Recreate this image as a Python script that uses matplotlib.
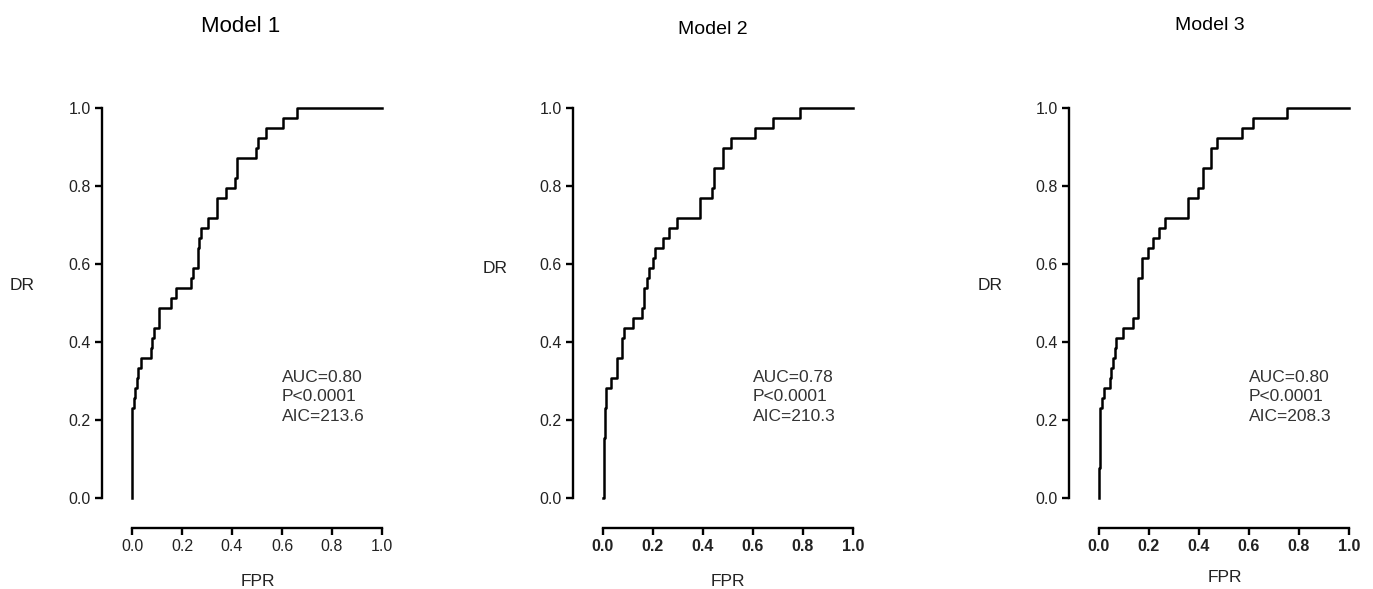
import matplotlib
matplotlib.use('Agg')
import matplotlib.pyplot as plt

plt.rcParams['font.family'] = ['Liberation Sans', 'DejaVu Sans']

model1_fpr = [0.0, 0.0, 0.008, 0.012, 0.019, 0.025, 0.035, 0.075, 0.081, 0.089, 0.109, 0.156,
              0.176, 0.236, 0.243, 0.263, 0.269, 0.276, 0.305, 0.341, 0.376, 0.412, 0.419,
              0.496, 0.503, 0.535, 0.605, 0.659, 1.0]
model1_dr = [0, 9, 10, 11, 12, 13, 14, 15, 16, 17, 19, 20, 21, 22, 23, 25, 26, 27, 28, 30, 31,
             32, 34, 35, 36, 37, 38, 39, 39]

model2_fpr = [0.0, 0.002, 0.004, 0.008, 0.010, 0.012, 0.032, 0.055, 0.075, 0.077, 0.085, 0.121,
              0.157, 0.164, 0.177, 0.184, 0.201, 0.208, 0.239, 0.264, 0.295, 0.388, 0.435,
              0.444, 0.481, 0.511, 0.608, 0.679, 0.788, 1.0]
model2_dr = [0, 3, 6, 9, 10, 11, 12, 14, 15, 16, 17, 18, 19, 21, 22, 23, 24, 25, 26, 27, 28, 30,
             31, 33, 35, 36, 37, 38, 39, 39]

model3_fpr = [0.0, 0.0, 0.004, 0.011, 0.021, 0.044, 0.048, 0.057, 0.064, 0.068, 0.097, 0.137,
              0.157, 0.171, 0.197, 0.217, 0.241, 0.264, 0.357, 0.397, 0.417, 0.448, 0.471,
              0.571, 0.615, 0.751, 1.0]
model3_dr = [0, 3, 9, 10, 11, 12, 13, 14, 15, 16, 17, 18, 22, 24, 25, 26, 27, 28, 30, 31, 33,
             35, 36, 37, 38, 39, 39]

n_pos = 39
titles = ['Model 1', 'Model 2', 'Model 3']
stats = ['AUC=0.80\nP<0.0001\nAIC=213.6',
         'AUC=0.78\nP<0.0001\nAIC=210.3',
         'AUC=0.80\nP<0.0001\nAIC=208.3']
ticks = [0.0, 0.2, 0.4, 0.6, 0.8, 1.0]

W, H = 1373, 589
fig = plt.figure(figsize=(W / 100, H / 100), dpi=100)

# pixel layout of each panel (left of data area, title/label spots)
lefts = [132, 603, 1099]
title_pos = [(241, 26, 16), (713, 30, 14), (1210, 25, 14)]
dr_pos = [(22, 285), (495, 268), (990, 285)]
fpr_pos = [(258, 582), (728, 582), (1225, 578)]
bold_x = [False, True, True]
curves = [(model1_fpr, model1_dr), (model2_fpr, model2_dr), (model3_fpr, model3_dr)]

for i in range(3):
    ax = fig.add_axes([lefts[i] / W, (H - 498) / H, 250 / W, 390 / H])
    fpr, dr = curves[i]
    ax.plot(fpr, [d / n_pos for d in dr], drawstyle='steps-post', color='black',
            lw=1.8, clip_on=False)
    ax.set_xlim(0, 1)
    ax.set_ylim(0, 1)
    for s in ['top', 'right']:
        ax.spines[s].set_visible(False)
    for s in ['left', 'bottom']:
        ax.spines[s].set_position(('outward', 21.6))
        ax.spines[s].set_linewidth(1.7)
    ax.set_xticks(ticks)
    ax.set_yticks(ticks)
    ax.set_xticklabels(['%.1f' % t for t in ticks],
                       fontweight='bold' if bold_x[i] else 'normal')
    ax.set_yticklabels(['%.1f' % t for t in ticks])
    ax.tick_params(direction='out', length=5, width=1.7, labelsize=11.5, pad=3,
                   colors='black', labelcolor='#222222')
    ax.text(0.6, 0.259, stats[i], transform=ax.transAxes, fontsize=12.5,
            color='#333333', va='center', ha='left', linespacing=1.35)

    tx, ty, ts = title_pos[i]
    fig.text(tx / W, 1 - ty / H, titles[i], fontsize=ts, ha='center', va='center')
    fig.text(dr_pos[i][0] / W, 1 - dr_pos[i][1] / H, 'DR', fontsize=12.5,
             ha='center', va='center', color='#222222')
    fig.text(fpr_pos[i][0] / W, 1 - fpr_pos[i][1] / H, 'FPR', fontsize=12.5,
             ha='center', va='center', color='#222222')

fig.savefig('out.png', dpi=100)
